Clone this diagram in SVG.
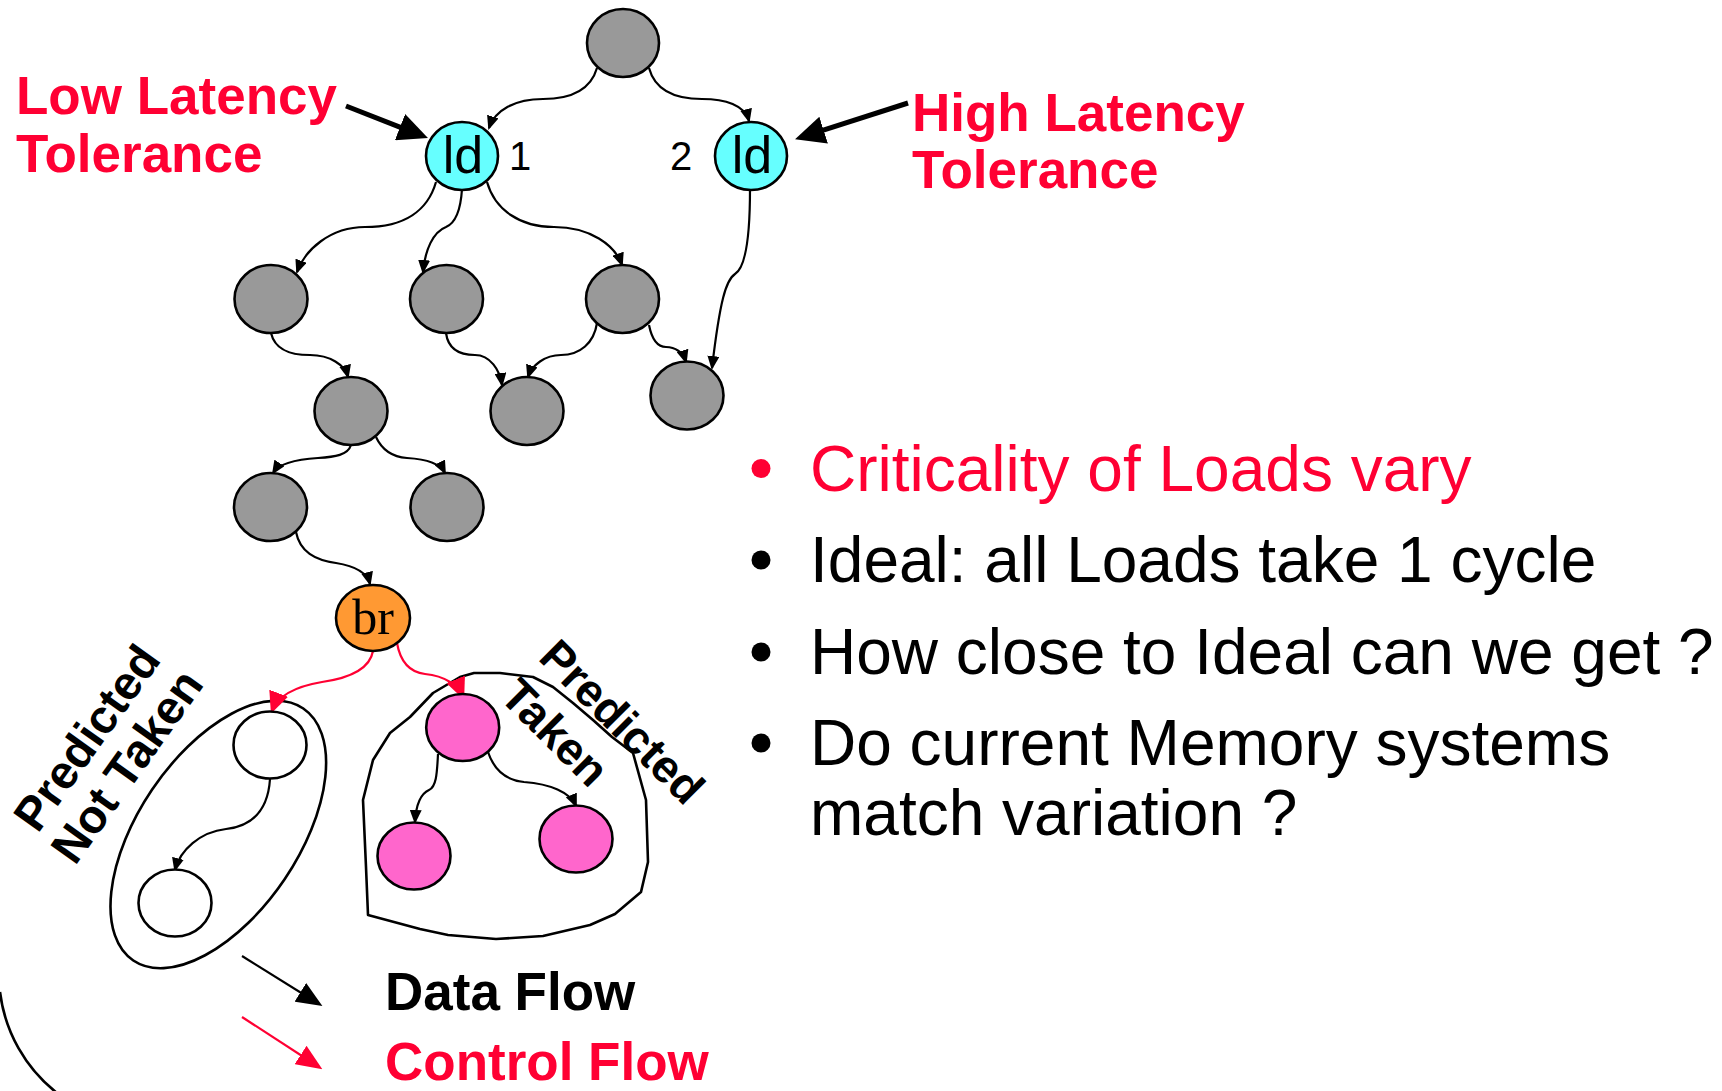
<svg xmlns="http://www.w3.org/2000/svg" width="1722" height="1091" viewBox="0 0 1722 1091">
<style>
.n{stroke:#000;stroke-width:2.6}
.g{fill:#999999}
.c{fill:#66FFFF}
.o{fill:#FF9933}
.p{fill:#FF66CC}
.w{fill:#fff}
.e{fill:none;stroke:#000;stroke-width:2.2;marker-end:url(#ah)}
.er{fill:none;stroke:#FF0033;stroke-width:2.2;marker-end:url(#ahr)}
.t{font-family:"Liberation Sans",Arial,sans-serif}
.b{font-family:"Liberation Sans",Arial,sans-serif;font-weight:bold}
.red{fill:#FF0033}
.blk{fill:#000}
.outline{fill:none;stroke:#000;stroke-width:2.6;stroke-linejoin:round}
</style>
<defs>
<marker id="ah" markerUnits="userSpaceOnUse" markerWidth="14" markerHeight="12" refX="12" refY="6" orient="auto"><path d="M0,0 L14,6 L0,12 z" fill="#000"/></marker>
<marker id="ahr" markerUnits="userSpaceOnUse" markerWidth="22" markerHeight="20" refX="19" refY="10" orient="auto"><path d="M0,0 L22,10 L0,20 z" fill="#FF0033"/></marker>
<marker id="big" markerUnits="userSpaceOnUse" markerWidth="30" markerHeight="28" refX="6" refY="14" orient="auto"><path d="M0,0 L30,14 L0,28 z" fill="#000"/></marker>
<marker id="leg" markerUnits="userSpaceOnUse" markerWidth="26" markerHeight="22" refX="22" refY="11" orient="auto"><path d="M0,0 L26,11 L0,22 z" fill="#000"/></marker>
<marker id="legr" markerUnits="userSpaceOnUse" markerWidth="26" markerHeight="22" refX="22" refY="11" orient="auto"><path d="M0,0 L26,11 L0,22 z" fill="#FF0033"/></marker>
</defs>

<!-- big background arc at bottom left -->
<path d="M0,992 A152,152 0 0,0 57,1093" fill="none" stroke="#000" stroke-width="2.6"/>

<!-- group outlines -->
<g id="group-not-taken">
<ellipse class="outline" cx="218.3" cy="834.5" rx="80" ry="152" transform="rotate(34 218.3 834.5)"/>
</g>
<g id="group-taken">
<path class="outline" d="M368,915 L366,867 L363,800 L373,760 L390,733 L410,717 L433,693 L460,677 L474,673 L500,673 L533,677 L553,687 L573,703 L593,720 L612,737 L633,753 L646,800 L648,862 L641,892 L615,914 L590,925 L543,936 L496,939 L448,935 L420,929 Z"/>
</g>

<g id="connectors">
<path class="e" d="M597,68 C590,92 568,99 543,99 C515,99 495,110 489,128"/>
<path class="e" d="M649,68 C655,90 675,99 702,99 C725,99 745,105 749,121"/>
<path class="e" d="M436,182 C428,210 405,227 365,227 C330,227 305,250 297,272"/>
<path class="e" d="M462,189 C461,205 458,222 446,227 C433,232 425,250 423,272"/>
<path class="e" d="M487,182 C495,210 520,227 554,227 C590,227 615,245 622,265"/>
<path class="e" d="M750,189 C750,240 745,268 735,274 C726,280 720,300 712,368"/>
<path class="e" d="M271,333 C275,350 290,355 310,355 C330,355 345,365 348,377"/>
<path class="e" d="M446,333 C448,348 458,355 475,355 C490,355 500,370 502,385"/>
<path class="e" d="M597,323 C594,343 580,355 561,355 C545,355 532,365 528,377"/>
<path class="e" d="M649,325 C652,340 658,347 666,347 C675,347 683,352 686,362"/>
<path class="e" d="M351,445 C348,455 335,457 318,458 C300,459 280,462 273,473"/>
<path class="e" d="M376,437 C382,450 393,457 407,458 C425,459 440,463 445,473"/>
<path class="e" d="M296,532 C300,552 315,560 336,563 C355,566 367,572 370,584"/>
<path class="er" d="M373,651 C370,668 350,678 322,682 C298,686 278,695 272,711"/>
<path class="er" d="M397,643 C400,660 408,672 425,674 C445,676 458,685 463,697"/>
<path class="e" d="M270,779 C268,810 252,826 226,829 C200,832 180,850 175,870"/>
<path class="e" d="M438,754 C437,775 436,787 429,790 C420,794 416,805 415,822"/>
<path class="e" d="M488,752 C494,770 505,780 524,782 C550,784 570,792 576,806"/>
<!-- annotation arrows -->
<line x1="346" y1="106" x2="405.6" y2="129.3" stroke="#000" stroke-width="5" marker-end="url(#big)"/>
<line x1="908" y1="103" x2="817.9" y2="131.9" stroke="#000" stroke-width="5" marker-end="url(#big)"/>
<!-- legend arrows -->
<line x1="242" y1="956" x2="319" y2="1004" stroke="#000" stroke-width="2.2" marker-end="url(#leg)"/>
<line x1="242" y1="1017" x2="319" y2="1067" stroke="#FF0033" stroke-width="2.2" marker-end="url(#legr)"/>
</g>

<g id="n-top"><ellipse class="n g" cx="623" cy="43" rx="36" ry="34"/></g>
<g id="n-ld1"><ellipse class="n c" cx="462" cy="156" rx="36" ry="34"/><text class="t blk" x="463" y="173" font-size="52" text-anchor="middle">ld</text></g>
<g id="n-ld2"><ellipse class="n c" cx="751" cy="156" rx="36" ry="34"/><text class="t blk" x="752" y="173" font-size="52" text-anchor="middle">ld</text></g>
<g id="n-a"><ellipse class="n g" cx="271" cy="299" rx="36.5" ry="34"/></g>
<g id="n-b"><ellipse class="n g" cx="446.5" cy="299" rx="36.5" ry="34"/></g>
<g id="n-c"><ellipse class="n g" cx="622.5" cy="299" rx="36.5" ry="34"/></g>
<g id="n-d"><ellipse class="n g" cx="351" cy="411" rx="36.5" ry="34"/></g>
<g id="n-e"><ellipse class="n g" cx="527" cy="411" rx="36.5" ry="34"/></g>
<g id="n-f"><ellipse class="n g" cx="687" cy="395.5" rx="36.5" ry="34"/></g>
<g id="n-g"><ellipse class="n g" cx="270.5" cy="507" rx="36.5" ry="34"/></g>
<g id="n-h"><ellipse class="n g" cx="447" cy="507" rx="36.5" ry="34"/></g>
<g id="n-br"><ellipse class="n o" cx="373" cy="618" rx="37" ry="33"/><text x="373" y="634" font-family="'Liberation Serif','Times New Roman',serif" font-size="50" text-anchor="middle" fill="#000">br</text></g>
<g id="n-w1"><ellipse class="n w" cx="270" cy="745" rx="36.5" ry="33.5"/></g>
<g id="n-w2"><ellipse class="n w" cx="175" cy="903" rx="36.5" ry="33.5"/></g>
<g id="n-p1"><ellipse class="n p" cx="462.7" cy="727.5" rx="36.5" ry="33.5"/></g>
<g id="n-p2"><ellipse class="n p" cx="414" cy="856" rx="36.5" ry="33.5"/></g>
<g id="n-p3"><ellipse class="n p" cx="576" cy="839" rx="36.5" ry="33.5"/></g>

<g id="labels">
<text class="t blk" x="509" y="170" font-size="40">1</text>
<text class="t blk" x="670" y="170" font-size="40">2</text>
<text class="b red" font-size="53"><tspan x="16" y="114">Low Latency</tspan><tspan x="16" y="172">Tolerance</tspan></text>
<text class="b red" font-size="53"><tspan x="912" y="131">High Latency</tspan><tspan x="912" y="188">Tolerance</tspan></text>
<g transform="translate(100,747) rotate(-54.5)"><text class="b blk" font-size="47" text-anchor="middle"><tspan x="0" y="0">Predicted</tspan><tspan x="0" y="49">Not Taken</tspan></text></g>
<g transform="translate(537,659) rotate(45)"><text class="b blk" font-size="46"><tspan x="0" y="0">Predicted</tspan><tspan x="0" y="55">Taken</tspan></text></g>
<text class="b blk" x="385" y="1010" font-size="53">Data Flow</text>
<text class="b red" x="385" y="1080" font-size="53">Control Flow</text>
</g>

<g id="bullets">
<circle cx="761" cy="468.5" r="9.5" fill="#FF0033"/>
<circle cx="761" cy="560" r="9.5" fill="#000"/>
<circle cx="761" cy="652" r="9.5" fill="#000"/>
<circle cx="761" cy="743" r="9.5" fill="#000"/>
<text class="t red" x="810" y="491" font-size="64">Criticality of Loads vary</text>
<text class="t blk" x="810" y="582" font-size="64">Ideal: all Loads take 1 cycle</text>
<text class="t blk" x="810" y="674" font-size="64">How close to Ideal can we get ?</text>
<text class="t blk" font-size="64"><tspan x="810" y="765">Do current Memory systems</tspan><tspan x="810" y="835">match variation ?</tspan></text>
</g>
</svg>
